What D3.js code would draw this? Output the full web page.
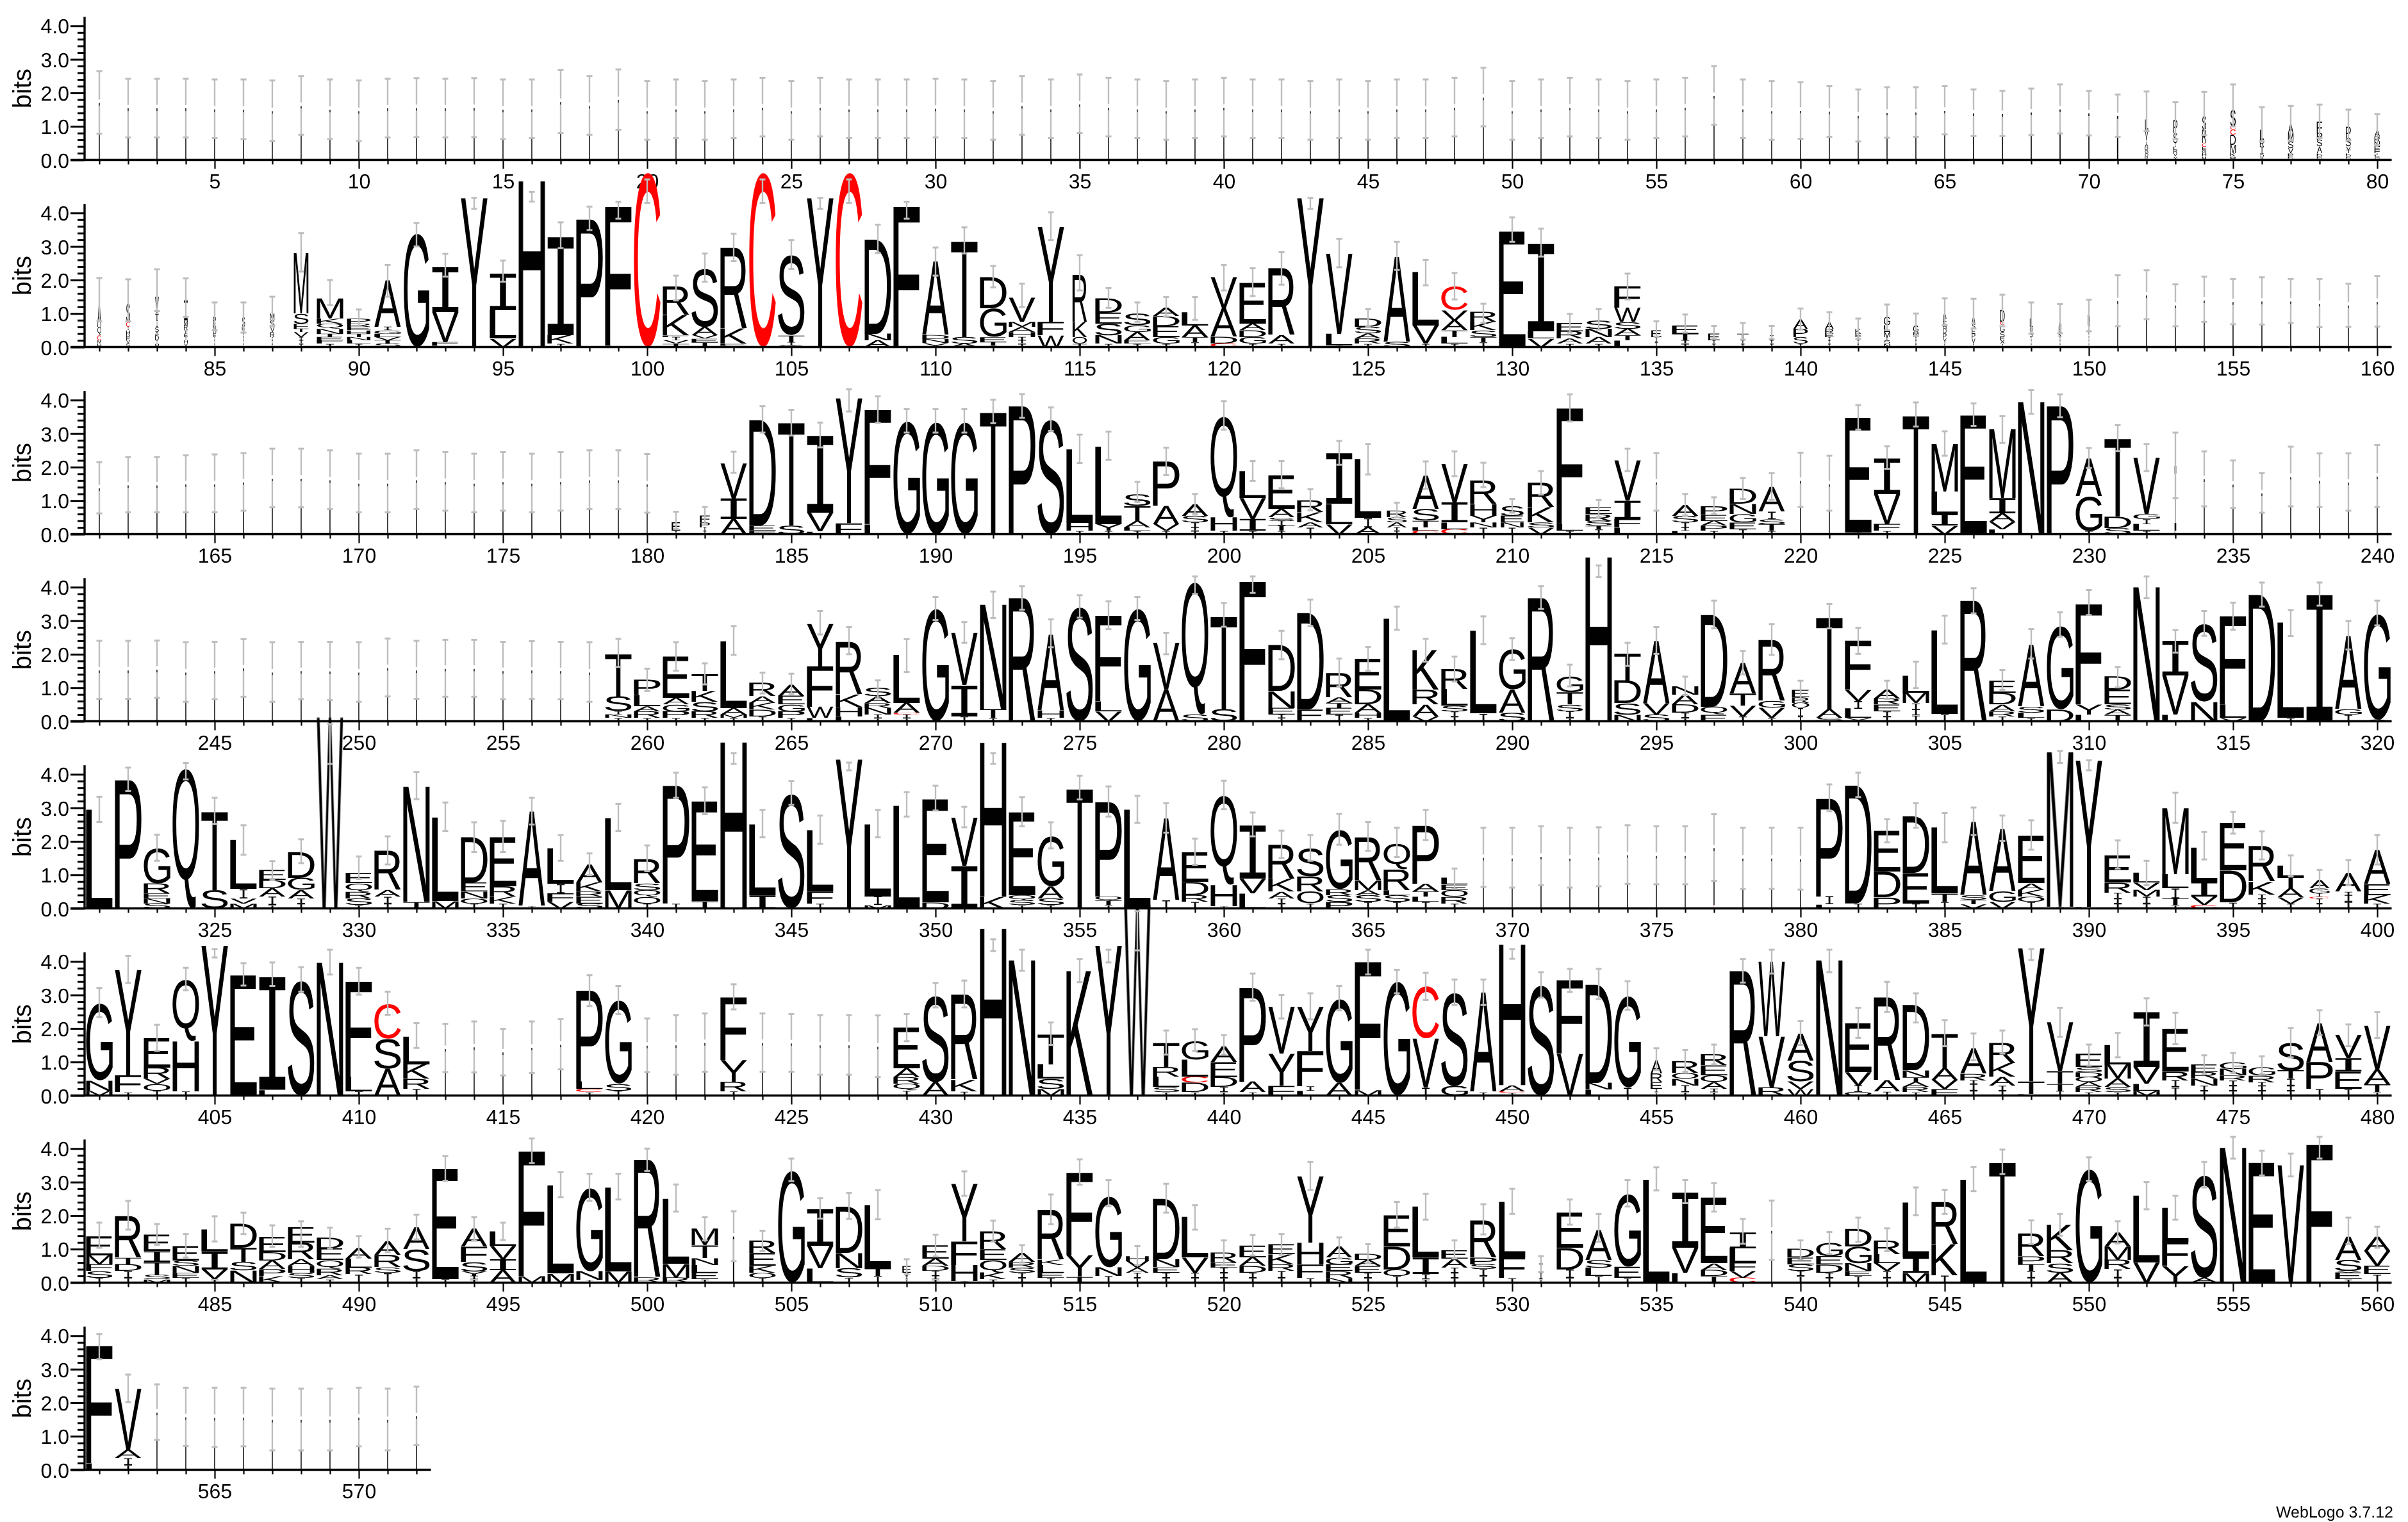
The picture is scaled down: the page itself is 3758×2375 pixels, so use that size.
<!DOCTYPE html>
<html><head><meta charset="utf-8">
<script src="https://cdnjs.cloudflare.com/ajax/libs/d3/7.8.5/d3.min.js"></script>
<style>html,body{margin:0;padding:0;background:#fff}svg{display:block}text{text-rendering:geometricPrecision}</style>
</head><body>
<script>
// Each stack: "width% errLow errHigh LetterHeight..." (letters bottom to top, heights in bits)
const row1=["3 .78 2.65 I1.71","3 .67 2.42 I1.55","3 .67 2.42 I1.55","3 .67 2.42 I1.55","3 .65 2.4 I1.52","3 .62 2.4 I1.51","3 .56 2.37 I1.47","3 .75 2.5 I1.62","3 .62 2.4 I1.51","3 .56 2.37 I1.47",
"3 .67 2.42 I1.55","3 .68 2.44 I1.56","3 .67 2.42 I1.55","3 .68 2.44 I1.56","3 .62 2.4 I1.51","3 .65 2.4 I1.52","3 .8 2.68 I1.74","3 .75 2.5 I1.62","3 .9 2.7 I1.8","3 .6 2.35 I1.47",
"3 .65 2.4 I1.52","3 .6 2.35 I1.47","3 .65 2.4 I1.52","3 .7 2.45 I1.57","3 .6 2.35 I1.47","3 .7 2.45 I1.57","3 .65 2.4 I1.52","3 .65 2.4 I1.52","3 .65 2.4 I1.52","3 .67 2.42 I1.54",
"3 .65 2.4 I1.52","3 .6 2.35 I1.47","3 .75 2.5 I1.62","3 .65 2.4 I1.52","3 .8 2.55 I1.67","3 .7 2.45 I1.57","3 .65 2.4 I1.52","3 .6 2.35 I1.47","3 .65 2.4 I1.52","3 .7 2.45 I1.57",
"3 .65 2.4 I1.52","3 .65 2.4 I1.52","3 .6 2.35 I1.47","3 .65 2.4 I1.52","3 .6 2.35 I1.47","3 .65 2.4 I1.52","3 .65 2.4 I1.52","3 .7 2.45 I1.57","3 1 2.75 I1.87","3 .6 2.35 I1.47",
"3 .65 2.4 I1.52","3 .7 2.45 I1.57","3 .65 2.4 I1.52","3 .6 2.35 I1.47","3 .65 2.4 I1.52","3 .7 2.45 I1.57","3 1.05 2.8 I1.92","3 .65 2.4 I1.52","3 .6 2.35 I1.47","3 .63 2.32 I1.48",
"3 .69 2.2 I1.45","3 .55 2.1 I1.33","3 .66 2.17 I1.42","3 .69 2.17 I1.43","3 .76 2.2 I1.48","4 .71 2.1 I1.4","4 .71 2.06 I1.38","4 .74 2.13 I1.43","4 .79 2.25 I1.52","4 .73 2.06 I1.4",
"5 .69 1.95 I1.32","11 .86 2.04 R.1O.1G.1D.1A.1I.1V.3L.3","14 .62 1.72 Y.1V.1R.1L.1I.1S.3P.4","14 .74 2.03 M.1H.1G.1E.1C.1R.4S.4","19 1 2.25 P.1K.1M.25D.3C.15C.1S.5","14 .55 1.57 A.05V.05S.1T.2R.2L.3","19 .58 1.61 Y.05F.05E.05D.05V.15S.2M.25A.3","19 .65 1.65 H.05E.05D.05L.05A.2S.2P.2F.35","17 .58 1.5 H.05E.05D.05L.05T.1V.1S.25P.35","19 .44 1.37 Y.05S.05L.05I.05F.1E.1N.15R.15A.2"];
const row2=["13 .77 2.06 H.1M.1C.15Q.25A.8","13 .77 2.02 S.1V.1E.1D.1H.1I.1C.15S.55","13 1.07 2.32 M.1I.1D.15A.1S.15I.2T.2V.5","13 .9 2.05 X.1H.1I.1E.1T.1R.15M.15I.6","10 .5 1.33 I.1I.1I.1E.1D.1N.1E.1P.2","10 .43 1.33 I.1I.1I.1I.1T.1E.1S.3","15 .62 1.5 I.1I.1I.1R.15V.15S.2M.2","51 2.25 3.4 I.1I.1I.1V.15T.1F.15S.3M1.8","92 1.25 2 I.1F.1E.1T.1N.15Q.15K.15M.6","82 .62 1.12 I.1L.1N.1T.1H.1E.1R.1P.15",
"92 1.5 2.45 S.1T.1V.1L.1G.1I.1A1.4","88 3 3.7 G3.38","92 2.1 2.78 L.05F.1V.9I1.35","92 4.12 4.45 Y4.45","92 1.95 2.58 V.25L.85I1.1","92 4.34 4.63 H4.96","92 2.95 3.72 I.1K.25I2.95","92 3.49 4.19 P3.81","92 3.83 4.33 L.05F4.14","92 4.3 5 C5.2",
"92 1.39 2.13 T.1V.1I.1F.05K.6R.85","92 1.95 2.79 T.15E.1V.1A.25S1.75","92 2.56 3.38 L.05E.05K.45R2.42","92 4.3 5 C5.2","92 2.33 3.19 S.05I.1T.2S2.4","92 4.12 4.45 Y4.45","92 4.3 5 C5.2","92 2.81 3.65 A.2N.2D2.82","92 3.83 4.33 F4.19","92 2.13 2.97 Y.12N.12D.12A2.2",
"92 2.79 3.57 A.1S.2T2.87","92 1.78 2.42 I.05T.1E.15G.85D.93","92 1.19 1.89 I.1I.1I.1H.15A.15M.15V.72","92 3.19 4.02 W.35F.4Y2.84","50 1.69 2.74 T.1O.2K.45R1.41","92 1.17 1.76 I.1N.25S.35E.33D.43","92 .75 1.33 I.1E.1A.25G.2S.35","92 .91 1.49 I.1G.2E.33D.3A.25","92 .81 1.49 I.15T.15A.35L.4","92 1.69 2.45 C.1D.2A.85V.93",
"92 1.52 2.35 I.1G.2D.2A.2E1.22","92 1.86 2.83 I.1A.25R2","92 4.12 4.45 Y4.45","92 2.38 3.23 I.05L.35V2.4","92 .59 1.13 I.1R.15A.15S.2D.25","92 2.3 3.14 S.15A2.55","92 1.84 2.6 I.1V.55L1.6","92 1.42 2.21 I.1L.2T.2A.3V.3C.7","92 .72 1.29 I.15T.15S.2K.25R.3","92 3.14 3.87 E3.45",
"92 2.7 3.53 V.25L.22I2.63","92 .43 .99 I.1A.15R.22E.25","92 .52 1.13 I.1A.2N.25S.25","92 1.42 2.19 L.2T.15A.2S.2W.42F.64","35 .31 .77 I.15I.15E.2","92 .43 .97 I.1I.1T.2E.25","40 .24 .63 I.1I.1E.2","40 .22 .72 I.1I.1T.2","45 .24 .63 I.1I.1I.15","50 .52 1.15 I.1S.2P.25A.28",
"30 .4 1.04 I.1I.1I.1E.1R.15A.2","20 .24 .85 I.1I.1I.1E.1K.15","22 .5 1.27 N.1S.1I.1M.15L.2G.25","18 .33 1 I.1I.1I.1M.15G.2","12 .65 1.45 I.1Y.15P.15O.15H.15F.15A.2","12 .55 1.44 I.1V.15P.15E.15S.15A.25","16 .62 1.56 I.1X.1E.1S.15G.2C.1D.35","10 .4 1.33 I.1I.1I.1S.15O.15L.25","10 .41 1.28 I.1I.1I.1K.15R.15A.2","8 .47 1.41 I.1I.1I.1I.1T.1V.2D.25",
"3 .62 2.14 I1.38","3 .83 2.29 I1.55","3 .62 1.87 I1.25","3 .75 2.1 I1.4","3 .68 2.03 I1.35","3 .67 2.08 I1.37","3 .72 2.03 I1.37","3 .59 2.03 I1.3","3 .6 1.89 I1.25","3 .61 2.12 I1.36"];
const row3=["3 .62 2.15 I1.38","3 .65 2.3 I1.47","3 .65 2.3 I1.47","3 .65 2.35 I1.5","3 .65 2.38 I1.5","3 .7 2.42 I1.56","3 .8 2.55 I1.67","3 .8 2.55 I1.67","3 .75 2.5 I1.62","3 .65 2.4 I1.52",
"3 .65 2.4 I1.52","3 .75 2.5 I1.62","3 .7 2.45 I1.57","3 .65 2.4 I1.52","3 .7 2.45 I1.57","3 .65 2.4 I1.52","3 .7 2.45 I1.57","3 .75 2.5 I1.62","3 .75 2.5 I1.62","3 .64 2.39 I1.5",
"30 .16 .67 I.1E.25","35 .29 .81 I.1I.1P.15F.2","92 1.83 2.46 A.45I.62V1.05","92 3.03 3.82 F.1E.15D3.15","92 2.94 3.71 S.25T3.08","92 2.59 3.33 L.08V.56I2.31","92 3.66 4.32 F.33Y3.73","92 3.32 4.11 L.3F3.41","92 3.03 3.73 G3.36","92 3.03 3.73 G3.33",
"92 3.03 3.73 G3.33","92 3.31 4.01 T3.65","92 3.47 4.18 P3.82","92 3.08 3.78 S3.43","92 2.12 2.97 I.1H.23L2.2","92 2.22 3.06 I.1Y.2L2.32","92 .96 1.56 I.1L.1A.2T.45S.35","92 1.76 2.58 I.1V.2A.55P1.32","92 .6 1.2 I.1I.1I.15S.2A.35","92 3.12 3.97 I.1H.4Q3",
"92 1.59 2.18 I.1I.35V.63L.8","92 1.37 2.18 I.1T.15I.15S.1A.25E1","92 .71 1.34 I.2A.15K.3R.35","92 2.07 2.78 V.3L.6I1.52","92 1.78 2.69 A.2I.28L1.76","70 .5 .94 I.1I.1A.15S.15R.2","92 1.35 2.17 C.1L.1T.2S.35A1","92 1.73 2.47 C.15L.2I.6V1.15","92 1.4 2.13 I.2N.15Y.2H.35R.7","80 .64 1.05 I.2N.15E.2S.3",
"92 1.18 1.88 V.2S.15K.45R.73","92 3.36 4.17 I.1L.2F3.46","92 .51 1.02 I.15T.1S.15R.2E.2","92 1.88 2.55 L.2F.25I.55V1.2","3 .7 2.42 I1.56","92 .56 1.2 L.1I.1I.15S.2A.33","92 .6 1.1 I.1P.15A.15E.18P.25","92 1.05 1.68 I.15E.2G.25N.3D.45","92 1.02 1.82 I.1T.2S.15I.22A.74","3 .81 2.43 I1.6",
"3 .7 2.34 I1.5","92 3.12 3.85 I.05E3.43","92 1.95 2.62 I.1F.2V.9I1.07","92 3.21 3.93 T3.55","92 2.34 3.07 V.25I.35L.67M1.42","92 3.23 3.9 E3.55","92 2.72 3.52 L.15V.22A.25I.46M2.06","92 3.59 4.3 N3.95","92 3.49 4.17 P3.82","92 1.97 2.57 I.1G1.03A1.13",
"92 2.48 3.25 S.18D.34T2.33","92 1.88 2.69 I.1L.2I.15G.15V1.68","6 1.07 3.03 L.1I1.95","3 .83 2.47 I1.65","3 .78 2.2 I1.49","3 .64 1.82 I1.23","3 .83 2.61 I1.72","3 .81 2.41 I1.6","3 .7 2.41 I1.55","3 .81 2.66 I1.73"];
const row4=["3 .67 2.4 I1.53","3 .67 2.4 I1.53","3 .7 2.41 I1.55","3 .58 2.36 I1.47","3 .66 2.37 I1.51","3 .73 2.45 I1.59","3 .58 2.36 I1.47","3 .66 2.37 I1.51","3 .63 2.37 I1.5","3 .58 2.36 I1.47",
"3 .74 2.47 I1.6","3 .67 2.4 I1.53","3 .73 2.43 I1.58","3 .73 2.43 I1.58","3 .66 2.37 I1.51","3 .67 2.39 I1.53","3 .66 2.37 I1.51","3 .58 2.36 I1.47","92 1.62 2.46 I.1N.1I.1S.44T1.27","92 .9 1.57 I.1R.2A.15L.34P.45",
"92 1.51 2.36 I.1P.2G.2A.2E1.24","92 1.1 1.73 I.1R.2S.28K.32T.5","92 1.98 2.84 I.1M.1A.2L2","92 .83 1.45 I.15D.2K.2A.2R.4","92 .81 1.42 I.1P.2G.2E.26A.34","92 2.59 3.29 L.1W.33F1.21Y1.27","92 2 2.81 L.15H.28K.37R1.57","92 .68 1.22 I.1I.1N.2R.15A.2S.25","92 1.47 2.45 I.1I.1C.05A.3L1.44","92 3.02 3.71 G3.35",
"92 2.34 2.96 I.15I.93V1.56","92 3.08 3.87 I.1T.26N3.13","92 3.33 4.03 R3.68","92 2.21 3.04 I.1H.22A2.27","92 3.09 3.76 S3.42","92 2.75 3.58 V.3L.3F2.55","92 3.02 3.71 G3.35","92 2 2.64 A.94V1.4","92 3.8 4.32 S.2Q3.94","92 2.82 3.53 S.36T2.78",
"92 3.83 4.32 F4.17","92 1.85 2.7 I.1I.1E.2N.5D1.37","92 2.84 3.63 E.36D2.88","92 1.04 1.87 I.2E.2T.15A.17R.73","92 1.5 2.22 I.1H.15A.25D.44E.92","92 2.73 3.42 L3.08","92 1.78 2.46 V.15A.35R.44K1.18","92 1.19 1.93 I.15I.15S.17L.5R.6","92 2.3 3.13 I.23L2.47","92 1.83 2.48 S.25A.69G1.2",
"92 3.35 4.03 R3.68","92 1.04 1.69 I.1I.2S.2T.36G.47","92 4.3 4.65 H4.9","92 1.65 2.34 N.2S.34D.68T.81","92 2.01 2.81 S.2V.34A1.87","92 .78 1.33 I.1I.15D.25A.3N.25","92 2.77 3.6 E.2Q.23D2.75","92 1.4 2.1 I.15V.32T.36A.92","92 1.98 2.9 I.1V.3G.2R1.82","60 .63 1.21 I.15I.25O.15R.17E.22",
"92 2.77 3.5 S.1A.26T2.75","92 2.01 2.79 Y.1L.28I.23V.33F1.46","92 .66 1.21 I.15I.15E.2R.18A.27","92 .99 1.78 I.18I.18I.18M.32L.51","92 2.32 3.15 I.22L2.5","92 3.22 3.97 R3.6","92 .94 1.53 I.15R.15A.2D.35E.36","92 1.87 2.75 I.1L.15S.18A1.85","92 2.52 3.25 D.36G2.48","92 3.17 3.92 L.2Y.3F2.99",
"92 1.01 1.62 T.2A.15S.15E.44D.4","92 3.67 4.32 N4.01","92 2.05 2.72 L.2V1.17I1.04","92 2.55 3.29 N.58S2.33","92 2.73 3.54 V.1L.4F2.63","92 3.42 4.14 D3.78","92 2.54 3.32 I.1L2.85","92 3.45 4.14 I3.8","92 2.14 2.99 I.2G.16A2.19","92 2.86 3.6 A.05G3.15"];
const row5=["92 2.58 3.33 L2.96","92 3.5 4.2 P3.83","92 1.42 2.2 S.15N.15E.15R.3G1.05","92 3.85 4.34 Q4.16","92 2.52 3.3 S.55T2.35","92 1.6 2.48 M.15V.15I.28L1.46","92 .84 1.41 I.1I.25A.25D.25E.3","92 1.35 2.06 I.15I.15A.25G.36D.77","92 4.31 5.5 W5.7","92 .88 1.55 I.1S.2R.2Q.25E.31",
"92 1.31 2.15 I.15I.2A.2R1.17","92 3.26 4.07 T.2N3.44","92 2.31 3.16 M.22L2.5","92 1.68 2.57 I.15O.15N.2E.27D1.35","92 1.68 2.61 I.15K.2R.31E1.47","92 2.5 3.3 I.07A2.83","92 1.42 2.19 V.2F.25I.28L1.06","92 .99 1.64 S.15E.2R.15K.27A.54","92 2.31 3.12 M.55L2.15","92 1.11 1.88 I.15O.2Q.2S.2R.72",
"92 3.3 4.05 I.15P3.51","92 2.81 3.61 T.22E2.98","92 4.31 4.63 H4.96","92 2.12 2.94 I.4L2.12","92 3.09 3.8 S3.43","92 1.93 2.77 I.15F.36L1.83","92 4.12 4.35 Y4.45","92 2.12 2.94 M.1I.26L2.16","92 2.74 3.47 L3.08","92 2.92 3.66 D.18E3.08",
"92 2.42 3.03 I1.28V1.44","92 4.31 4.63 K.35H4.6","92 2.45 3.32 I.1S.15Q.15E2.48","92 1.79 2.57 I.1S.2A.36G1.49","92 3.25 3.96 T3.58","92 2.74 3.64 I.1T.13Q.13P2.82","92 2.55 3.36 L2.96","92 2.26 3.14 I.25A2.45","92 1.3 2.08 I.2R.2D.4E.88","92 2.96 3.81 I.07H.63Q2.66",
"92 2.15 2.86 L.45V.43I1.6","92 1.5 2.32 I.15I.15A.2K.38R1.02","92 1.42 2.19 I.15O.35R.45S.84","92 1.9 2.82 P.2S.2R.18G1.76","92 1.72 2.58 I.2S.2A.15M.29R1.28","92 1.53 2.41 I.2S.2L.15R.62Q.76","92 2.04 2.94 I.2L.15T.15A.23P1.73","92 .58 1.19 I.15R.2O.2E.16L.2","2 .64 2.41 I1.52","2 .62 2.41 I1.5",
"2 .69 2.45 I1.55","2 .62 2.41 I1.5","2 .66 2.42 I1.53","2 .73 2.48 I1.6","2 .72 2.45 I1.58","2 .72 2.45 I1.58","2 .82 2.81 C.1I1.7","2 .58 2.41 I1.5","2 .58 2.41 I1.5","2 .56 2.41 I1.48",
"92 2.9 3.7 L.12I.24P2.92","92 3.32 4.05 I.15D3.52","92 1.97 2.66 P.33D.76E1.22","92 2.41 3.14 I.15E.91D1.69","92 1.97 2.85 I.2T.24L1.97","92 2.19 3.01 V.13T.13S.14A2.19","92 2.01 2.77 V.2G.31A1.86","92 1.75 2.63 I.2O.15K.2A.2E1.42","92 4.34 4.7 I.05M4.62","92 4.12 4.42 L.05Y4.37",
"92 1.19 2.03 I.15I.15I.17R.3E.81","92 .69 1.42 I.15I.2M.2V.22L.29","92 2.55 3.45 I.1T.2I.3L.42M1.97","92 1.46 2.28 C.1V.25I.45L1.02","92 2.23 2.88 I.18D.95E1.42","92 1.46 2.3 I.15I.15I.12K.38R1.06","92 .95 1.58 I.15V.18A.27T.35L.33","70 .56 1.15 I.15I.15C.05I.1G.15A.25","92 .69 1.44 I.2I.2I.1A.56","92 1.31 2.19 I.15K.25E.33A1.02"];
const row6=["92 2.34 3.21 M.15N.3G2.29","92 3.36 4.17 I.1F.5Y3.15","92 1.33 2.11 I.15O.2V.15R.34E.88","92 3.14 3.81 I.13H1.49Q1.82","92 4.12 4.37 Y4.48","92 3.28 3.95 E3.59","92 3.27 3.97 L.17I3.39","92 3.1 3.83 S3.44","92 3.61 4.35 N3.97","92 3.01 3.81 I.13L.44F2.84",
"92 2.41 3.1 A.8S.89C1.03","92 1.42 2.16 I.2R.3K.43L.83","2 .7 2.14 I1.4","2 .69 2.21 I1.45","2 .6 1.99 I1.3","2 .67 2.21 I1.44","3 .78 2.28 I1.53","92 2.67 3.59 I.1C.1L.22P2.72","92 2.43 3.27 I.15S.2G2.48","2 .7 2.3 I1.5",
"2 .62 2.4 I1.51","2 .71 2.45 I1.58","92 2.57 3.32 I.13R.29Y.65F1.87","2 .71 2.45 I1.58","2 .71 2.43 I1.57","2 .62 2.4 I1.51","2 .62 2.4 I1.51","2 .55 2.39 I1.47","92 1.62 2.43 I.15Q.2R.2A.27E1.22","92 2.63 3.36 A.4S2.59",
"92 2.63 3.43 I.12K.34R2.55","92 4.31 4.66 H4.98","92 3.72 4.35 N4.04","92 1.51 2.18 M.2S.3L.43T.9","92 3.38 4.07 K3.72","92 3.97 4.35 Y4.48","92 4.33 5.5 W5.7","92 1.22 1.94 I.1S.15L.31R.29T.72","92 1.33 1.98 I.1D.28C.18L.51G.55","92 1.22 1.8 I.1I.15D.3E.45A.47",
"92 2.83 3.64 I.1A.32P2.8","92 2.3 3 F.3Y.95V1.4","92 2.27 3.05 L.15I.13F1.05Y1.32","92 2.54 3.27 A.38G2.5","92 3.61 4.35 M.17F3.82","92 3.05 3.75 G3.39","92 2.85 3.66 I.24V1.46C1.55","92 2.7 3.46 G.28S2.8","92 2.7 3.46 I.1A2.98","92 4.08 4.37 I.08C.05A.18H4.2",
"92 2.92 3.68 S3.3","92 3.09 3.78 V1.25F2.19","92 2.88 3.78 L.18N.2D2.94","92 2.56 3.41 I.24G2.72","40 .76 1.41 I.1I.1E.2R.25A.4","92 .71 1.36 I.1I.2N.2O.17R.35","92 .93 1.52 I.1I.1A.2O.2E.3R.33","92 3.37 4.07 R3.72","92 3.64 4.35 R.24V1.52W2.23","92 1.51 2.22 W.2V.22S.62A.81",
"92 3.68 4.35 N4.04","92 1.72 2.62 O.1I.2V.4E1.46","92 2.49 3.39 I.12A.34R2.48","92 2.18 3.05 I.1R.15A.15T.15N.2D1.95","92 1.47 2.25 F.2V.27A.35T1.03","92 1.05 1.85 I.15I.2I.1R.2A.76","92 1.25 1.94 I.15I.15A.26K.41R.61","92 4.04 4.37 L.05T.37Y3.98","92 1.75 2.62 I.15T.2T.38V1.45","92 .89 1.52 I.1R.15A.15O.15D.15S.15E.4",
"92 1.14 1.87 I.1S.15A.25M.43L.58","92 2.09 2.9 M.15L.2V.5I1.65","92 1.53 2.47 I.25I.2R.26E1.27","92 .64 1.2 I.15I.15N.2R.2E.23","92 .67 1.27 I.15I.15I.15R.15N.2G.2","92 .64 1.17 I.15I.15I.1R.2G.25","92 1.14 2.01 I.15I.15I.2T.25S.83","92 1.8 2.54 I.2P.8A1.16","92 1.47 2.12 I.2E.51I.4V.69","92 1.72 2.49 I.1T.23A.45V1.31"];
const row7=["92 1.04 1.79 I.15S.2F.2M.27E.57","92 1.58 2.44 I.15I.2D.2T.2R1.24","92 1.13 1.75 M.1S.14T.38I.32E.49","92 .75 1.45 I.15E.15N.2S.16E.43","92 1.23 1.98 I.1V.3I.53L.66","92 1.45 2.09 N.37S.25T.42D.72","92 1.07 1.71 K.2P.2A.26D.25E.46","92 1.07 1.83 I.15S.15H.2A.2R.5E.46","92 1.02 1.64 I.1A.12R.2Q.25E.35D.32","92 .75 1.39 I.25R.2L.27A.32",
"92 .91 1.61 I.3S.16R.36A.41","92 1.29 2.03 I.15I.2S.65A.66","92 3.04 3.78 I.11E3.3","92 1.25 1.95 I.1I.1Y.14S.28F.45A.54","92 1.27 1.79 A.37I.33V.4L.43","92 3.57 4.3 M.2F3.72","92 2.55 3.3 M.27L2.63","92 2.44 3.25 I.08N.26G2.48","92 2.48 3.25 M.34L2.51","92 3.33 4 R.15R3.52",
"92 2.12 2.93 R.15M.41L1.94","92 1.26 1.95 I.1E.2L.23N.2T.38M.5","5 .64 2.13 I1.39","92 .94 1.55 I.15O.15K.2E.38R.37","92 3.03 3.7 G3.33","92 1.91 2.52 L.43V.67I1.1","92 1.9 2.68 I.15S.28N.45D1.38","92 1.89 2.76 I.2T.23L1.89","30 .25 .7 I.1I.1I.1E.2","92 .78 1.43 I.1I.1I.15D.15A.22E.4",
"92 2.59 3.32 I.05H.48F.7Y1.72","92 1.23 1.85 I.1K.2Q.38E.32R.53","92 .6 1.12 I.15I.15S.15R.17A.27","92 1.74 2.63 I.15E.15L.23K.16R1.49","92 2.92 3.68 T.18Y.64F2.47","92 2.28 3.06 I.2N.26G2.11","80 .53 1.09 I.15I.15A.15V.2H.15","92 2.09 2.95 I.15I.15E.16N.23D1.81","92 1.58 2.31 I.15I.15V.45L1.21","92 .54 1.26 I.15I.15I.15E.15R.3",
"92 .81 1.42 I.15I.15D.2A.26E.35","92 .83 1.45 I.15I.2R.2K.3E.3","92 2.77 3.6 I.14F.4H.65Y1.98","92 .72 1.35 N.15R.2E.2G.2A.33","92 .58 1.15 I.15I.15E.2A.18D.18","92 1.64 2.41 I.2O.2D.68E.93","92 1.88 2.65 I.1I.15I.5L1.52","92 .72 1.26 I.15I.15I.15A.27E.25","92 1.44 2.34 I.2I.2S.15P.2R1.11","92 2.05 2.8 I.14F.62L1.66",
"40 .32 .79 I.1I.2I.28","92 1.73 2.48 I.15I.25D.64E1.05","92 1.22 2.05 I.2L.25S.23A.9","92 2.27 3.06 I.14E.33G2.16","92 2.75 3.44 L3.09","92 2.37 3.06 L.29V.75I1.66","92 2.12 2.97 T.2D.18A.2E1.96","92 1.16 1.9 C.15V.2F.25L.43I.48","3 .68 2.45 I1.56","92 .68 1.26 I.2I.15S.2E.2D.26",
"92 .85 1.51 I.15I.15D.24E.25G.4","92 1.22 1.94 I.2E.15N.23G.5D.52","92 .94 1.62 I.15I.2V.23L.27R.41","92 2.01 2.84 M.29I.47L1.64","92 2.05 2.77 I.22K.93R1.26","92 2.73 3.45 L3.09","92 3.24 3.97 T3.6","92 1.15 1.86 I.15I.2T.2P.24R.68","92 1.4 2.05 A.3S.28R.39K.76","92 3.04 3.74 G3.38",
"92 1.17 1.83 I.15I.25R.28M.4A.42","92 2.19 3 V.61L2","92 1.88 2.59 Y.5F.72L1.02","92 2.84 3.6 A.14S3.08","92 3.7 4.35 N4.03","92 3.2 3.94 E3.58","92 3.17 3.85 V3.51","92 3.7 4.35 F4.12","92 1.15 1.94 I.1E.2V.05S.33A.7","92 1.04 1.67 I.25E.25V.44A.43"];
const row8=["92 3.3 4.05 L.2F3.5","92 2.02 2.84 I.15I.2A.25V1.82","3 .89 2.55 I1.72","3 .71 2.45 I1.58","3 .68 2.45 I1.56","3 .7 2.45 I1.57","3 .58 2.42 I1.5","3 .58 2.42 I1.5","3 .58 2.42 I1.5","3 .7 2.45 I1.57","3 .58 2.42 I1.5","3 .74 2.48 I1.61"];
const rowStacks=[row1,row2,row3,row4,row5,row6,row7,row8];
const yTickLabels=[0,1,2,3,4];
const yAxisLabel="bits";
const footer="WebLogo 3.7.12";

const W=3758,H=2375,FIRST_X=155,STEP=45,BASE0=249.5,ROW_GAP=292,BIT=52.3;
const SANS="'Liberation Sans',Arial,sans-serif", MONO="'Liberation Mono',monospace";
const svg=d3.select("body").append("svg").attr("width",W).attr("height",H).attr("viewBox",`0 0 ${W} ${H}`);
const root=svg.append("g").attr("opacity",0.999); // transparent layer: grayscale text edges
const ctx=document.createElement("canvas").getContext("2d");
const cache={};
function metrics(ch,fam){const k=ch+fam;if(cache[k])return cache[k];ctx.font=`200px ${fam}`;const m=ctx.measureText(ch);
  return cache[k]={l:m.actualBoundingBoxLeft,r:m.actualBoundingBoxRight,a:m.actualBoundingBoxAscent,d:m.actualBoundingBoxDescent};}
function parse(s){const [w,lo,hi,seq]=s.split(" ");const letters=[];let b=0;
  for(const m of seq.matchAll(/([A-Z])([\d.]+)/g)){const h=+m[2];letters.push({ch:m[1],b,h});b+=h;}
  return {w:+w,lo:+lo,hi:+hi,letters,top:b};}

rowStacks.forEach((row,ri)=>{
  const start=ri*80+1,base=BASE0+ri*ROW_GAP;
  const stacks=row.map((s,i)=>Object.assign(parse(s),{pos:start+i}));
  const x=d3.scaleLinear().domain([start,start+79]).range([FIRST_X,FIRST_X+79*STEP]);
  const y=d3.scaleLinear().domain([0,4]).range([base,base-4*BIT]);
  const g=root.append("g");
  const col=g.selectAll("g.stack").data(stacks).join("g").attr("class","stack");
  col.selectAll("text").data(d=>d.letters.map(l=>Object.assign({},l,{w:d.w,pos:d.pos}))).join("text")
    .text(d=>d.ch)
    .attr("fill",d=>d.ch==="C"?"#ff0000":"#000")
    .each(function(d){
      let bw=Math.max(d.w/100*STEP,1.6);
      const fam=(d.ch==="I"&&d.w>=6)?MONO:SANS, m=metrics(d.ch,fam);
      if(d.ch==="I"&&d.h<=.3&&d.w>=6) bw*=.3;   // very low-share residues read as small marks
      const left=x(d.pos)-bw/2, bottom=y(d.b), hpx=y(d.b)-y(d.b+d.h);
      const sx=bw/(m.l+m.r), sy=hpx/(m.a+m.d);
      d3.select(this).attr("font-family",fam).attr("font-size",200)
        .attr("transform",`translate(${left+m.l*sx},${bottom-m.d*sy}) scale(${sx},${sy})`);
    });
  // error bars (thin stacks show a break in the bar at the stack top)
  const eb=g.append("g").attr("stroke","#bdbdbd").attr("stroke-width",2.4).attr("fill","none");
  const segs=stacks.flatMap(d=>d.w<=5?[{pos:d.pos,a:d.lo,b:d.top-.09},{pos:d.pos,a:d.top+.09,b:d.hi}]:[{pos:d.pos,a:d.lo,b:d.hi}]);
  eb.selectAll("line.v").data(segs).join("line").attr("class","v").attr("x1",d=>x(d.pos)).attr("x2",d=>x(d.pos)).attr("y1",d=>y(d.a)).attr("y2",d=>y(d.b));
  eb.selectAll("line.a").data(stacks).join("line").attr("class","a").attr("x1",d=>x(d.pos)-4.5).attr("x2",d=>x(d.pos)+4.5).attr("y1",d=>y(d.lo)).attr("y2",d=>y(d.lo)).attr("stroke-width",3);
  eb.selectAll("line.b").data(stacks).join("line").attr("class","b").attr("x1",d=>x(d.pos)-4.5).attr("x2",d=>x(d.pos)+4.5).attr("y1",d=>y(d.hi)).attr("y2",d=>y(d.hi)).attr("stroke-width",3);
  // x axis
  const last=start+row.length-1;
  const xa=g.append("g").attr("transform",`translate(0,${base})`)
    .call(d3.axisBottom(x).tickValues(stacks.map(d=>d.pos)).tickSize(7).tickPadding(14).tickFormat(d=>d%5===0?d:""));
  xa.select(".domain").remove();
  xa.selectAll(".tick line").attr("stroke","#000").attr("stroke-width",2.2).attr("y2",d=>d%5===0?14:7);
  xa.selectAll("text").attr("font-family",SANS).attr("font-size",32).attr("fill","#000").attr("y",22).attr("dy","0.71em");
  g.append("line").attr("x1",x(start-1)).attr("x2",x(last)+STEP/2).attr("y1",base).attr("y2",base).attr("stroke","#000").attr("stroke-width",3.6);
  // y axis
  const ya=g.append("g").attr("transform",`translate(${x(start-1)+22},0)`)
    .call(d3.axisLeft(y).tickValues(d3.range(0,21).map(i=>i/5)).tickSize(11).tickPadding(4)
      .tickFormat(d=>yTickLabels.includes(d)?d3.format(".1f")(d):""));
  ya.select(".domain").remove();
  ya.selectAll(".tick line").attr("stroke","#000").attr("stroke-width",3).attr("x2",d=>yTickLabels.includes(d)?-22:-11);
  ya.selectAll("text").attr("font-family",SANS).attr("font-size",32).attr("fill","#000").attr("x",-24).attr("dy","0.36em");
  g.append("line").attr("x1",x(start-1)+22).attr("x2",x(start-1)+22).attr("y1",base).attr("y2",y(4.27)).attr("stroke","#000").attr("stroke-width",3.4);
  g.append("text").text(yAxisLabel).attr("font-family",SANS).attr("font-size",40).attr("fill","#000").attr("text-anchor","middle")
    .attr("transform",`translate(48,${y(2.13)}) rotate(-90)`);
});
root.append("text").text(footer).attr("x",3735).attr("y",2368).attr("text-anchor","end").attr("font-family",SANS).attr("font-size",25).attr("fill","#000");
</script>
</body></html>
